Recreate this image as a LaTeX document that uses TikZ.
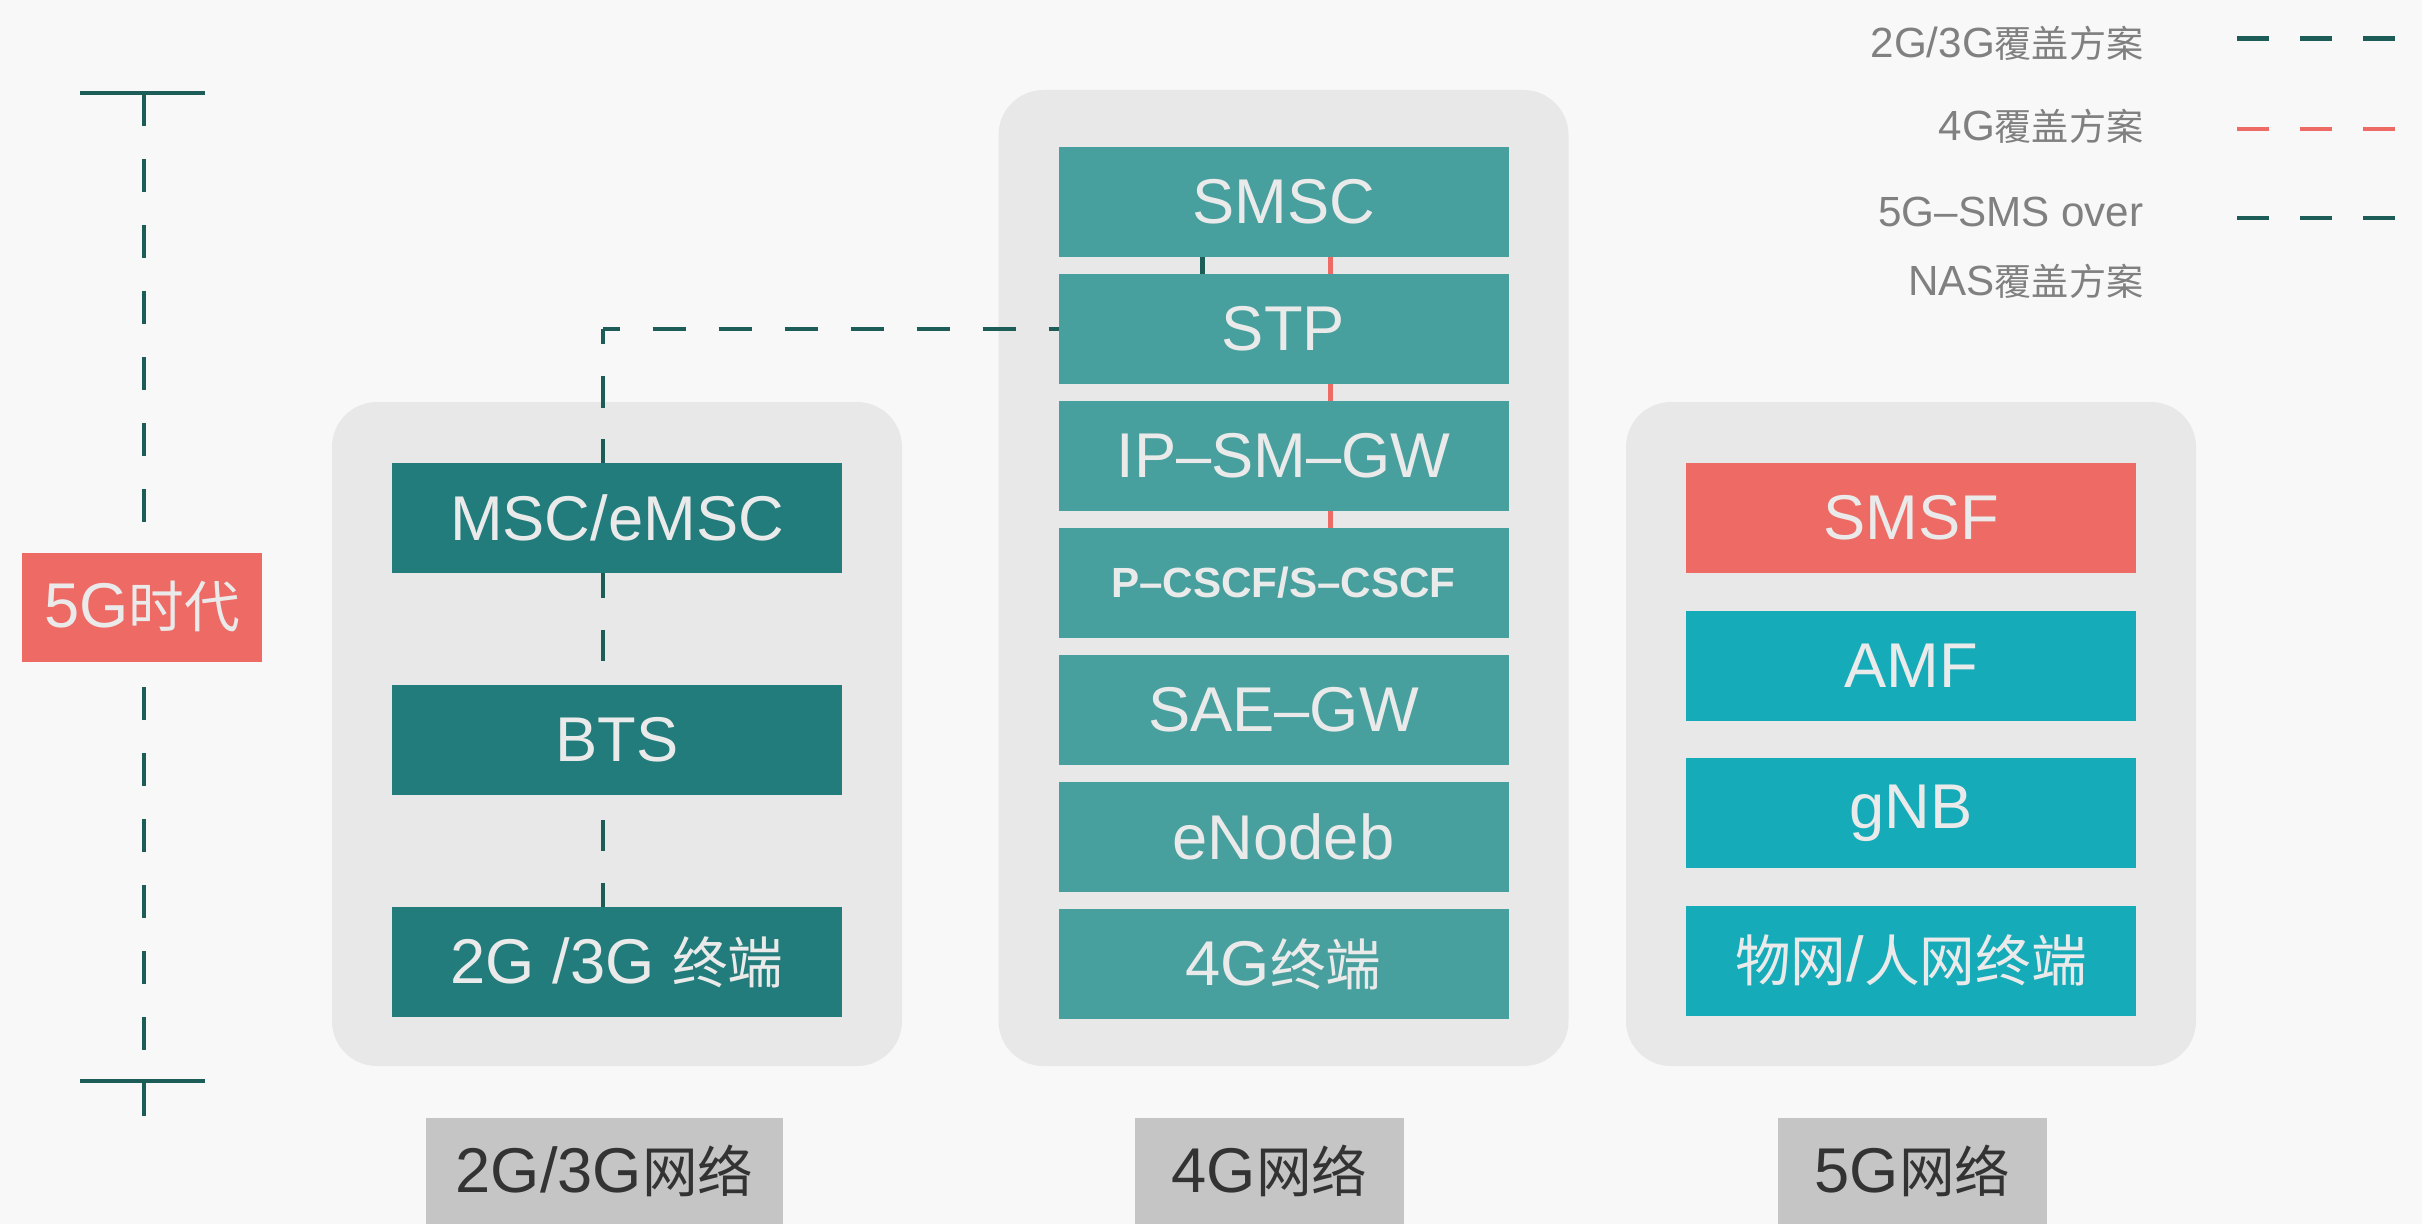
\documentclass[tikz,border=0pt]{standalone}
\usepackage{fontspec}
\setmainfont{Liberation Sans}
\newfontfamily\zhfont{Noto Sans CJK SC}[Scale=0.88]
\newcommand{\zh}[1]{{\zhfont #1}}
\usetikzlibrary{positioning}

\definecolor{bgcol}{HTML}{F8F8F8}
\definecolor{groupcol}{HTML}{E8E8E8}
\definecolor{teal2g}{HTML}{217C7B}
\definecolor{teal4g}{HTML}{48A09E}
\definecolor{cyan5g}{HTML}{16ABB8}
\definecolor{salmon}{HTML}{EE6A65}
\definecolor{linecol}{HTML}{1D5D58}
\definecolor{legendtext}{HTML}{808080}
\definecolor{labelfill}{HTML}{C5C5C5}
\definecolor{labeltext}{HTML}{333333}
\definecolor{boxtext}{HTML}{EAEAEA}

\pgfdeclarelayer{back}
\pgfdeclarelayer{links}
\pgfsetlayers{back,links,main}

\tikzset{
	group/.style={fill=groupcol, rounded corners=4.5mm, minimum width=5.7cm, outer sep=0pt},
	netbox/.style={minimum width=4.5cm, minimum height=1.1cm, inner sep=0pt, outer sep=0pt, text=boxtext, font=\fontsize{18}{22}\selectfont},
	box2g/.style={netbox, fill=teal2g},
	box4g/.style={netbox, fill=teal4g},
	box5g/.style={netbox, fill=cyan5g},
	boxsms/.style={netbox, fill=salmon},
	link2g/.style={draw=linecol, line width=1.4pt},
	link4g/.style={draw=salmon, line width=1.4pt},
	dashlink/.style={dash pattern=on 3.3mm off 3.3mm},
	keydash/.style={dash pattern=on 3.2mm off 3.1mm},
	legtext/.style={text=legendtext, font=\fontsize{12}{19.8}\selectfont, align=right, inner sep=0pt, anchor=east},
	netlabel/.style={fill=labelfill, text=labeltext, minimum height=1.06cm, inner sep=0pt, font=\fontsize{18}{22}\selectfont},
}

\begin{document}
	\begin{tikzpicture}
		\useasboundingbox (0,0) rectangle (24.22,-12.24);

		\begin{pgfonlayer}{back}
			\fill[bgcol] (0,0) rectangle (24.22,-12.24);
			\node (g2) at (6.17, -7.34) [group, minimum height=6.64cm] {};
			\node (g4) at (12.835, -5.78) [group, minimum height=9.76cm] {};
			\node (g5) at (19.11, -7.34) [group, minimum height=6.64cm] {};
		\end{pgfonlayer}

		% 2G/3G
		\begin{scope}
			\node (msc) [box2g, below = 6.1mm of g2.north] {MSC/eMSC};
			\node (bts) [box2g, below = 11.2mm of msc] {BTS};
			\node (term2g) [box2g, below = 11.2mm of bts] {2G /3G \zh{终端}};
		\end{scope}

		% 4G
		\begin{scope}
			\node (smsc) [box4g, below = 5.7mm of g4.north] {SMSC};
			\node (stp) [box4g, below = 1.7mm of smsc] {STP};
			\node (ipsmgw) [box4g, below = 1.7mm of stp] {IP–SM–GW};
			\node (pcscf) [box4g, below = 1.7mm of ipsmgw, font=\fontsize{12}{14}\selectfont\bfseries] {P–CSCF/S–CSCF};
			\node (saegw) [box4g, below = 1.7mm of pcscf] {SAE–GW};
			\node (enodeb) [box4g, below = 1.7mm of saegw] {eNodeb};
			\node (term4g) [box4g, below = 1.7mm of enodeb] {4G\zh{终端}};
		\end{scope}

		% 5G
		\begin{scope}
			\node (smsf) [boxsms, below = 6.1mm of g5.north] {SMSF};
			\node (amf) [box5g, below = 3.75mm of smsf] {AMF};
			\node (gnb) [box5g, below = 3.75mm of amf] {gNB};
			\node (term5g) [box5g, below = 3.75mm of gnb] {\zh{物网}/\zh{人网终端}};
		\end{scope}

		% links
		\begin{pgfonlayer}{links}
			\coordinate (drop) at ([xshift=-1.4mm]term2g.north);
			\coordinate (bend) at (stp.west -| drop);
			\draw[link2g, dashlink, dash phase=1.65mm] (bend) -- (stp.west);
			\draw[link2g, dash pattern=on 3.17mm off 3.17mm, dash phase=1.65mm] (bend) -- (drop);
			\draw[link2g] ([xshift=-8.1mm]smsc.south) -- ([xshift=-8.1mm]stp.north);
			\draw[link4g] ([xshift=4.7mm]smsc.south) -- ([xshift=4.7mm]pcscf.north);

			\coordinate (tltop) at (1.44, -0.93);
			\coordinate (tlbot) at (1.44, -10.81);
			\coordinate (tlend) at (1.44, -11.18);
			\draw[link2g, dashlink] (tltop) -- (tlend);
			\draw[link2g, line width=1.2pt] ([xshift=-6.4mm]tltop) -- ([xshift=6.1mm]tltop);
			\draw[link2g, line width=1.2pt] ([xshift=-6.4mm]tlbot) -- ([xshift=6.1mm]tlbot);
		\end{pgfonlayer}

		\node (era) at (1.42, -6.07) [boxsms, minimum width=2.4cm, minimum height=1.09cm] {5G\zh{时代}};

		% legend
		\node (leg2g) at (21.44, -0.43) [legtext] {2G/3G\zh{覆盖方案}};
		\node (leg4g) at (21.44, -1.26) [legtext] {4G\zh{覆盖方案}};
		\node (leg5g) at (21.44, -2.48) [legtext] {5G–SMS over\\NAS\zh{覆盖方案}};
		\coordinate (k2a) at (22.37, -0.385);
		\coordinate (k2b) at (23.96, -0.385);
		\coordinate (k4a) at (22.37, -1.29);
		\coordinate (k4b) at (23.96, -1.29);
		\coordinate (k5a) at (22.37, -2.18);
		\coordinate (k5b) at (23.96, -2.18);
		\draw[link2g, keydash] (k2a) -- (k2b);
		\draw[link4g, keydash] (k4a) -- (k4b);
		\draw[link2g, keydash] (k5a) -- (k5b);

		% labels
		\node (lab2g) at (6.045, -11.71) [netlabel, minimum width=3.57cm] {2G/3G\zh{网络}};
		\node (lab4g) at (12.695, -11.71) [netlabel, minimum width=2.69cm] {4G\zh{网络}};
		\node (lab5g) at (19.125, -11.71) [netlabel, minimum width=2.69cm] {5G\zh{网络}};

	\end{tikzpicture}
\end{document}
